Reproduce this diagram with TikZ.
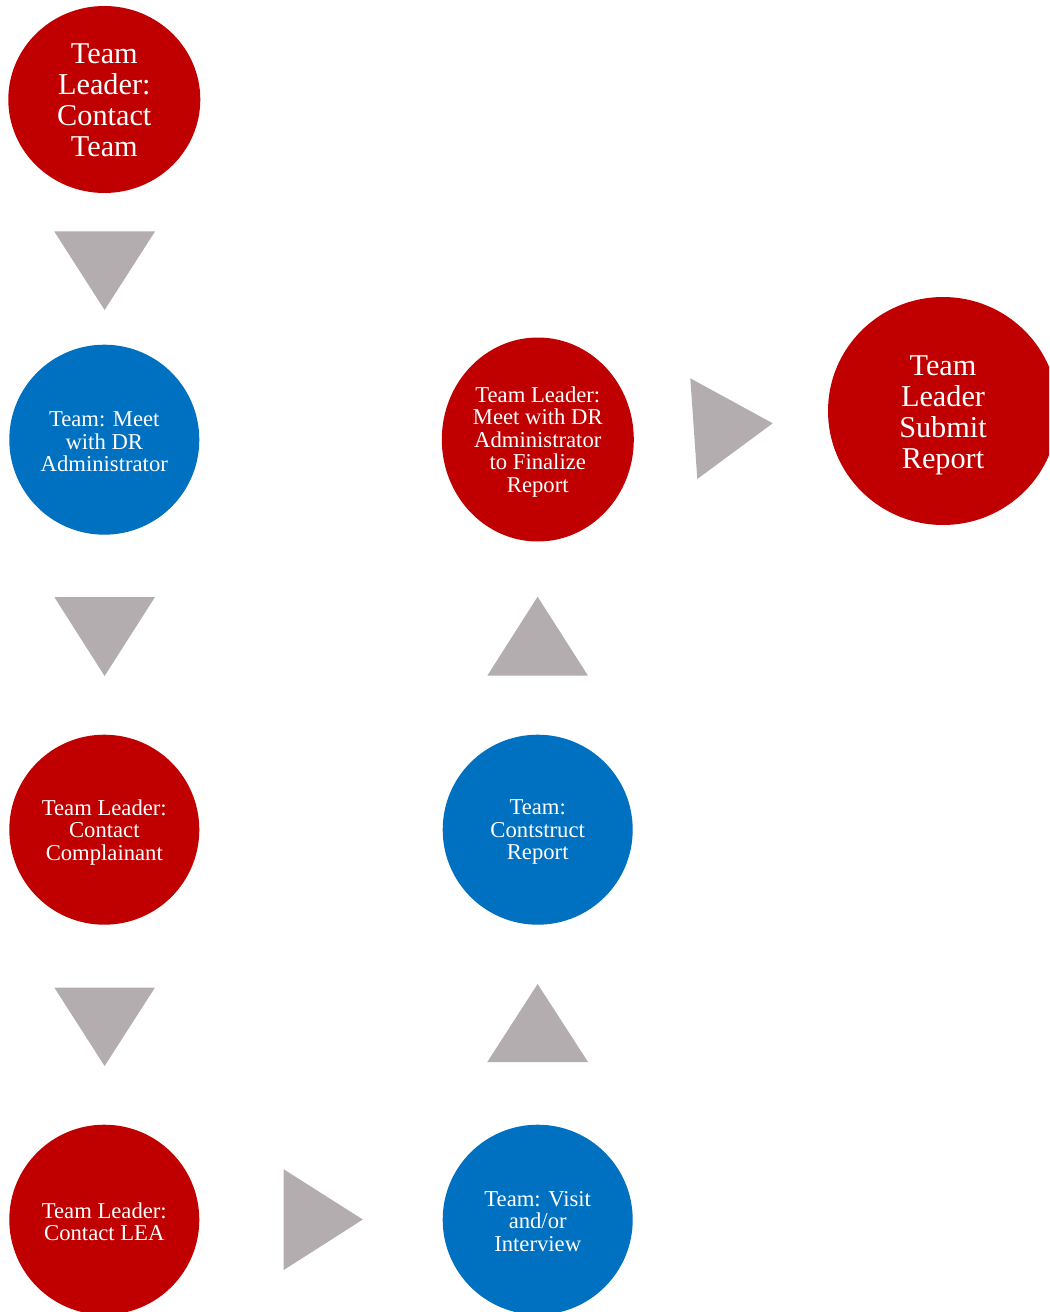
\documentclass[tikz,border=0pt]{standalone}
\usepackage{fontspec}
\setmainfont{Liberation Serif}
\usetikzlibrary{shapes.geometric}
\definecolor{stepred}{RGB}{192,0,0}
\definecolor{stepblue}{RGB}{0,112,192}
\definecolor{tri}{RGB}{179,173,176}
\tikzset{
  bubble/.style={shape=ellipse, inner sep=0pt},
  label/.style={inner sep=0pt, text=white, align=center},
  smalltxt/.style={label, font=\fontsize{17}{16.9}\selectfont},
  bigtxt/.style={label, font=\fontsize{22.7}{23.25}\selectfont},
  redb/.style={bubble, fill=stepred},
  blueb/.style={bubble, fill=stepblue},
  std/.style={minimum width=142.5pt, minimum height=142.5pt},
  arrowtri/.style={fill=tri, draw=none}
}
\begin{document}
\begin{tikzpicture}[x=0.75pt,y=-0.75pt]
\clip (0,0) rectangle (1049,1312);
\fill[white] (0,0) rectangle (1049,1312);

% circles
\node[redb, minimum width=144pt, minimum height=140.25pt] (c1) at (104.3,99.5) {};
\node[blueb, std] (c2) at (104.3,439.7) {};
\node[redb, std] (c3) at (104.3,829.7) {};
\node[redb, std] (c4) at (104.3,1219.7) {};
\node[blueb, std] (c5) at (537.7,1219.7) {};
\node[blueb, std] (c6) at (537.7,829.7) {};
\node[redb, minimum width=144pt, minimum height=153pt] (c7) at (537.8,439.5) {};
\node[redb, minimum width=172.5pt, minimum height=171pt] (c8) at (943,411) {};

% texts
\node[bigtxt] (t1) at ([yshift=-0.6pt]c1.center) {Team\\Leader:\\Contact\\Team};
\node[smalltxt] (t2) at ([yshift=-1.6pt]c2.center) {Team: Meet\\with DR\\Administrator};
\node[smalltxt] (t3) at ([yshift=-1.8pt]c3.center) {Team Leader:\\Contact\\Complainant};
\node[smalltxt] (t4) at ([yshift=-1.4pt]c4.center) {Team Leader:\\Contact LEA};
\node[smalltxt] (t5) at ([yshift=-1.4pt]c5.center) {Team: Visit\\and/or\\Interview};
\node[smalltxt] (t6) at ([yshift=-1.8pt]c6.center) {Team:\\Contstruct\\Report};
\node[smalltxt] (t7) at ([yshift=-1.8pt]c7.center) {Team Leader:\\Meet with DR\\Administrator\\to Finalize\\Report};
\node[bigtxt] (t8) at ([yshift=-3pt]c8.center) {Team\\Leader\\Submit\\Report};

% arrow triangles
\fill[arrowtri] (54.3,231.5) -- (155,231.5) -- (104.6,310) -- cycle;
\fill[arrowtri] (54.3,597) -- (155,597) -- (104.6,676) -- cycle;
\fill[arrowtri] (54.3,987.5) -- (155,987.5) -- (104.6,1066) -- cycle;
\fill[arrowtri] (283.7,1169.3) -- (362.8,1219.5) -- (283.7,1270) -- cycle;
\fill[arrowtri] (487.3,1062) -- (588,1062) -- (537.6,984) -- cycle;
\fill[arrowtri] (487.3,675.7) -- (588,675.7) -- (537.6,596.7) -- cycle;
\fill[arrowtri] (690.3,378.3) -- (772.7,423.3) -- (697.3,479) -- cycle;
\end{tikzpicture}
\end{document}
